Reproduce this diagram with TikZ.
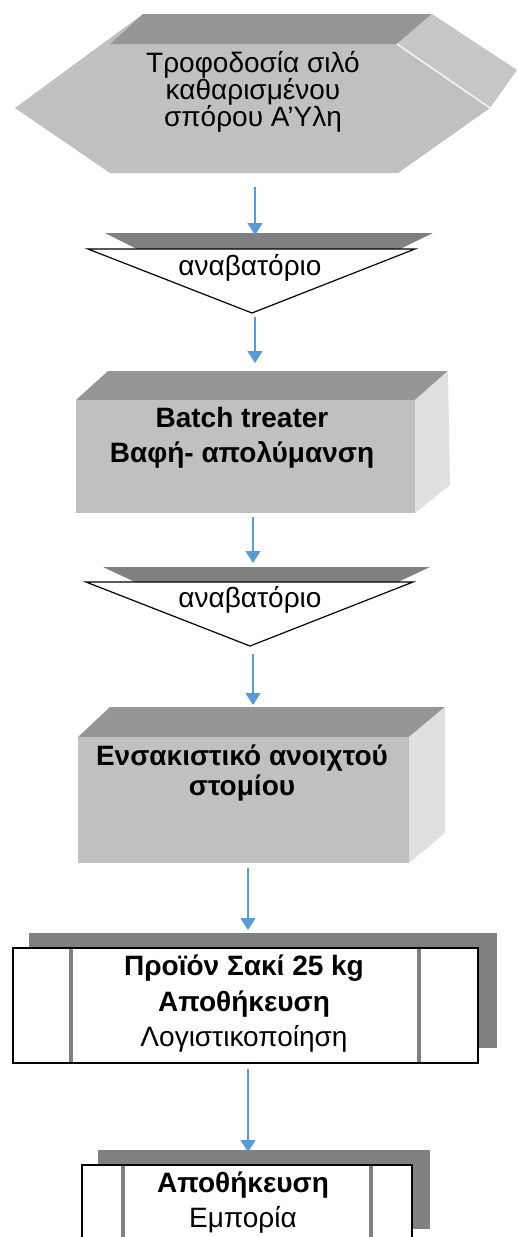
\documentclass[tikz,border=0pt]{standalone}
\usepackage{fontspec}
\setmainfont{Liberation Sans}
\usetikzlibrary{arrows.meta}
\definecolor{flowblue}{HTML}{5B9BD5}
\definecolor{topgray}{HTML}{969696}
\definecolor{facegray}{HTML}{C0C0C0}
\definecolor{sidegray}{HTML}{E0E0E0}
\definecolor{hexside}{HTML}{C6C6C6}
\definecolor{bandgray}{HTML}{808080}
\begin{document}
\begin{tikzpicture}[x=0.5pt,y=-0.5pt,
    flow/.style={flowblue,line width=0.8pt,-{Triangle[width=7.5pt,length=6pt]}},
    txt/.style={align=center,inner sep=0pt,font=\fontsize{14}{17.5}\selectfont},
    bold/.style={txt,font=\fontsize{14}{17.5}\selectfont\bfseries},
    funnel/.style={fill=white,draw=black,line width=0.6pt},
    storebox/.style={fill=white,draw=black,line width=1pt},
    bar/.style={bandgray,line width=1.6pt}]
\useasboundingbox (0,0) rectangle (517,1237);
\clip (0,0) rectangle (517,1237);

% silo feed (hexagon)
\fill[facegray] (15,108) -- (110,44) -- (397,44) -- (490,108) -- (398,173) -- (110,173) -- cycle;
\fill[facegray] (15,108) -- (143,14) -- (110,44) -- cycle;
\fill[topgray] (110,44) -- (143,14) -- (432,14) -- (397,44) -- cycle;
\fill[hexside] (397,44) -- (432,14) -- (517,70) -- (490,108) -- cycle;
\draw[white!80!facegray,line width=0.8pt] (397,44) -- (490,108);
\node[txt,font=\fontsize{14}{13.5}\selectfont] (feed) at (253,92)
    {Τροφοδοσία σιλό\\καθαρισμένου\\σπόρου Α'Υλη};

% first lift
\fill[bandgray] (105,233) -- (433,233) -- (400,249) -- (137,249) -- cycle;
\filldraw[funnel] (88,249) -- (415,249) -- (252,313) -- cycle;
\node[txt] (lift1) at (250,268) {αναβατόριο};

% batch treater
\fill[topgray] (76,400) -- (108,371) -- (448,371) -- (415,400) -- cycle;
\fill[sidegray] (415,400) -- (448,371) -- (450,485) -- (415,513) -- cycle;
\fill[facegray] (76,400) rectangle (415,513);
\node[bold] (treat) at (242,438) {Batch treater\\Βαφή- απολύμανση};

% second lift
\fill[bandgray] (103,567) -- (430,567) -- (398,582) -- (135,582) -- cycle;
\filldraw[funnel] (86,582) -- (413,582) -- (250,646) -- cycle;
\node[txt] (lift2) at (250,600) {αναβατόριο};

% bagging
\fill[topgray] (78,737) -- (110,707) -- (445,707) -- (409,737) -- cycle;
\fill[sidegray] (409,737) -- (445,707) -- (445,833) -- (409,863) -- cycle;
\fill[facegray] (78,737) rectangle (409,863);
\node[bold,font=\fontsize{14}{15}\selectfont\bfseries] (bag) at (242,773)
    {Ενσακιστικό ανοιχτού\\στομίου};

% product
\fill[bandgray] (29,933) rectangle (497,1048);
\filldraw[storebox] (13,948) rectangle (478,1063);
\draw[bar] (71,949) -- (71,1062);
\draw[bar] (419,949) -- (419,1062);
\node[txt,font=\fontsize{14}{17.75}\selectfont] (prod) at (244,1004)
    {\textbf{Προϊόν Σακί 25 kg}\\\textbf{Αποθήκευση}\\Λογιστικοποίηση};

% storage
\fill[bandgray] (98,1150) rectangle (430,1229);
\filldraw[storebox] (82,1165) rectangle (412,1260);
\draw[bar] (123,1166) -- (123,1259);
\draw[bar] (371,1166) -- (371,1259);
\node[txt] (store) at (243,1203) {\textbf{Αποθήκευση}\\Εμπορία};

% arrows
\coordinate (a1) at (255,187); \coordinate (b1) at (255,235);
\coordinate (a2) at (255,317); \coordinate (b2) at (255,363);
\coordinate (a3) at (253,517); \coordinate (b3) at (253,563);
\coordinate (a4) at (253,654); \coordinate (b4) at (253,705);
\coordinate (a5) at (248,868); \coordinate (b5) at (248,930);
\coordinate (a6) at (248,1069); \coordinate (b6) at (248,1152);
\foreach \i in {1,...,6}
    \draw[flow] (a\i) -- (b\i);
\end{tikzpicture}
\end{document}
